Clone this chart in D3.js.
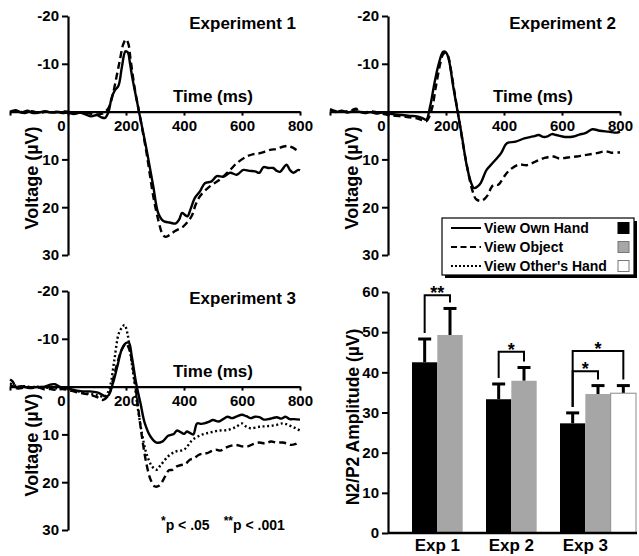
<!DOCTYPE html>
<html>
<head>
<meta charset="utf-8">
<script src="https://cdn.jsdelivr.net/npm/d3@7/dist/d3.min.js"></script>
<style>
  html, body { margin: 0; padding: 0; background: #fff; }
  svg { display: block; }
  text { font-family: "Liberation Sans", Arial, Helvetica, sans-serif; font-weight: bold; fill: #000; }
</style>
</head>
<body>
<svg id="chart" width="639" height="556"></svg>
<script>
// ---------------- DATA ----------------
// ERP waveforms: [time (ms), voltage (µV)]
const exp1Own = [[-200,0],[-180,-0.3],[-160,0.2],[-140,-0.2],[-120,0.3],[-100,0.2],[-80,-0.1],[-60,0.2],[-40,0],[-20,0.3],[0,0.2],[20,0.5],[40,0.2],[60,0.6],[80,1.0],[100,0.7],[115,1.2],[128,1.3],[140,0],[150,-2.8],[162,-4.5],[174,-5.4],[186,-9.4],[198,-12.6],[206,-12.4],[214,-10],[222,-7],[237,-2.4],[248,1],[271,8],[294,15.6],[311,21.2],[329,22.9],[350,23.2],[372,23.4],[384,22.5],[393,21.2],[403,21.6],[412,21.9],[422,20.5],[438,18],[455,16.7],[472,15],[495,14.6],[513,13.5],[536,13.6],[559,12.8],[582,13.2],[605,12.2],[625,12.4],[645,12.5],[660,12.8],[674,11.6],[690,11.8],[708,11.8],[720,12.4],[731,12.6],[745,11.6],[754,11.1],[765,12.2],[777,12.8],[794,12.2],[800,12.3]];
const exp1Obj = [[-200,0.2],[-175,-0.2],[-150,0.3],[-125,-0.1],[-100,0.3],[-75,0],[-50,0.2],[-25,0],[0,0],[25,0.3],[50,0.2],[75,0.4],[100,0.6],[120,0.4],[140,-0.8],[156,-4],[168,-7.5],[179,-10.8],[190,-14],[200,-15.1],[208,-14.2],[216,-10.8],[231,-4.5],[248,1],[271,8.7],[294,17.7],[311,22.6],[325,25.5],[336,26.2],[348,25.9],[369,25],[398,24],[426,21.9],[440,19.5],[455,17.7],[490,15.6],[524,14.2],[559,12.2],[582,10.8],[616,9.4],[640,8.9],[662,8.7],[697,8],[720,7.8],[743,7.3],[760,7.2],[777,7.6],[794,8.3],[800,8.4]];
const exp2Own = [[-200,-0.3],[-180,0.1],[-160,-0.2],[-140,0.2],[-120,-0.1],[-100,0],[-80,0.3],[-60,0.1],[-40,0.4],[-20,0.2],[0,0.4],[25,0.6],[50,0.7],[75,0.9],[100,1],[120,1.4],[132,1.7],[145,-1],[160,-5.9],[175,-10],[190,-12.5],[200,-12.4],[210,-10.8],[225,-5.2],[240,0],[255,5.2],[270,10.8],[285,14.6],[297,16],[310,15.6],[320,14.9],[340,12.2],[360,10.8],[375,9.8],[390,8.7],[410,6.6],[440,6.3],[470,5.6],[500,5.2],[520,4.9],[535,5.3],[550,5.2],[565,4.7],[580,4.9],[610,5.3],[640,5.2],[660,4.8],[680,4.5],[705,3.7],[730,4],[760,4.2],[790,4.4],[800,4.2]];
const exp2Obj = [[-200,-0.5],[-175,0],[-150,0],[-125,-0.3],[-110,-0.6],[-100,0],[-75,0.1],[-50,0],[-25,0.4],[0,0.7],[25,0.9],[50,1.0],[75,1.2],[100,1.4],[118,1.8],[132,2.0],[150,-0.3],[165,-5.2],[180,-10],[190,-12],[200,-12.3],[208,-11.5],[215,-9.4],[230,-3.8],[245,1.7],[260,7.3],[275,12.2],[290,16.3],[305,18.4],[325,18.6],[345,17.4],[355,16],[365,15.3],[380,15.3],[390,14.6],[405,13.2],[420,12.2],[450,11.1],[480,11.2],[510,10.4],[540,9.7],[570,9.4],[590,9.8],[610,9.7],[630,9.5],[650,9.4],[670,9.2],[690,9.0],[720,8.7],[750,8.3],[770,8.6],[800,8.5]];
const exp3Own = [[-200,-0.3],[-180,0.1],[-160,-0.1],[-140,0.2],[-120,0.1],[-100,0.1],[-80,0],[-60,-0.4],[-45,-0.5],[-30,0],[-15,0.3],[0,0.4],[25,0.8],[50,1.0],[75,1.0],[100,1.2],[115,1.6],[130,2.1],[140,1.8],[155,-0.7],[170,-4.2],[185,-7.7],[200,-9.1],[210,-9.2],[220,-6.3],[235,-0.7],[250,3.5],[265,7.7],[285,10.5],[305,11.7],[325,11.5],[345,10.3],[365,9.9],[375,9.2],[385,9.4],[400,9.9],[410,9.4],[420,9.7],[432,10],[445,7.7],[460,7.8],[470,7.7],[485,7.4],[500,7],[520,7.3],[535,6.8],[550,6.3],[565,6.6],[580,6.3],[600,5.9],[615,6.2],[630,6.6],[645,6.3],[660,6.4],[675,6.9],[690,6.8],[705,6.6],[720,6.4],[735,6.7],[750,6.3],[765,6.8],[780,6.8],[800,6.9]];
const exp3Obj = [[-200,-1.5],[-190,-1],[-180,0.3],[-170,0.4],[-150,0.2],[-130,0.3],[-110,0.2],[-100,0.2],[-80,0.6],[-60,0.5],[-40,0.7],[-20,0.5],[0,0.7],[25,1.1],[50,1.4],[75,1.7],[100,2.2],[120,2.8],[140,1.8],[155,-1.4],[170,-4.9],[185,-7.7],[200,-9],[212,-7.7],[225,-3.5],[240,3.5],[255,10.5],[270,16],[285,19.5],[300,20.9],[315,20.7],[335,18.8],[348,17.5],[360,17.4],[375,16.7],[390,16.4],[405,16.2],[420,15.3],[435,15],[450,14.3],[465,14],[480,13.9],[495,13.5],[510,13.2],[525,13.4],[540,12.9],[560,12.4],[580,12.2],[600,12.5],[620,12.5],[640,12.0],[660,11.7],[680,11.9],[700,11.5],[720,11.7],[740,11.7],[755,11.9],[770,12.2],[785,12.0],[800,11.5]];
const exp3Other = [[-200,-0.7],[-185,-0.3],[-170,0],[-150,-0.1],[-125,0.1],[-100,0],[-75,0.2],[-50,0.3],[-25,0.4],[0,0.4],[25,0.8],[50,1.3],[75,1.5],[100,1.8],[125,2.1],[135,1.5],[145,0],[160,-5.6],[175,-11.1],[188,-12.5],[195,-12.9],[205,-11.1],[215,-7],[228,-1.4],[240,4.2],[255,9.8],[270,13.9],[290,16.7],[305,17.4],[320,16.4],[345,14.6],[370,13.6],[400,13.2],[415,12.2],[430,11.1],[460,10.1],[490,9.6],[520,9.2],[550,9.1],[580,8.4],[600,7.7],[615,8.4],[630,8.7],[660,8.4],[680,8.3],[700,8.2],[720,8.0],[740,7.7],[755,7.9],[770,8.3],[785,8.7],[800,9.2]];

const erpTimeTicks = [-200, 0, 200, 400, 600, 800];
const erpVoltTicks = [-20, -10, 10, 20, 30];

// Bar chart
const barCategories = ["Exp 1", "Exp 2", "Exp 3"];
const conditions = ["View Own Hand", "View Object", "View Other's Hand"];
const ownMeans   = [42.5, 33.3, 27.3];
const ownErrors  = [5.8, 3.8, 2.6];
const objMeans   = [49.3, 37.9, 34.6];
const objErrors  = [6.6, 3.3, 2.1];
const otherMeans = [null, null, 34.8];
const otherErrors= [null, null, 1.9];
const barTicks = [0, 10, 20, 30, 40, 50, 60];
// significance brackets: category, from condition index, to condition index, bracket level (µV), label
const sigBrackets = [
  {cat: "Exp 1", from: 0, to: 1, level: 59.2, label: "**"},
  {cat: "Exp 2", from: 0, to: 1, level: 45.1, label: "*"},
  {cat: "Exp 3", from: 0, to: 1, level: 40.3, label: "*"},
  {cat: "Exp 3", from: 0, to: 2, level: 45.3, label: "*"}
];

// ---------------- DRAWING ----------------
const svg = d3.select("#chart");
const FONT_TICK = 15;
const plainFmt = d => String(d);   // hyphen-minus like the original

const styles = [
  {dash: null},
  {dash: "7,4"},
  {dash: "2,2.6"}
];

function erpPanel(opts) {
  const g = svg.append("g");
  const x = d3.scaleLinear().domain([-200, 800]).range([opts.x0, opts.x1]);
  const y = d3.scaleLinear().domain([-20, 30]).range([opts.y0, opts.y1]);

  // y axis at time 0
  const yAxis = d3.axisLeft(y).tickValues(erpVoltTicks).tickFormat(plainFmt)
    .tickSize(6).tickSizeOuter(0).tickPadding(3);
  const ya = g.append("g").attr("transform", `translate(${x(0)},0)`).call(yAxis);
  ya.select(".domain").attr("stroke-width", 2.2);
  ya.selectAll(".tick line").attr("stroke-width", 2);
  ya.selectAll(".tick text").style("font-size", FONT_TICK + "px");

  // x axis at voltage 0
  const xAxis = d3.axisBottom(x).tickValues(erpTimeTicks).tickSize(4).tickSizeOuter(0).tickPadding(5)
    .tickFormat(d => d === -200 ? "" : String(d));
  const xa = g.append("g").attr("transform", `translate(0,${y(0)})`).call(xAxis);
  xa.select(".domain").attr("stroke-width", 2.2);
  xa.selectAll(".tick line").attr("stroke-width", 2);
  xa.selectAll(".tick text").style("font-size", FONT_TICK + "px")
    .attr("dx", d => d === 0 ? -7 : 0);

  // curves
  const line = d3.line().x(d => x(d[0])).y(d => y(d[1])).curve(d3.curveCatmullRom.alpha(0.5));
  opts.series.forEach((s) => {
    g.append("path").datum(s.data)
      .attr("d", line)
      .attr("fill", "none")
      .attr("stroke", "#000")
      .attr("stroke-width", 2.4)
      .attr("stroke-linejoin", "round")
      .attr("stroke-dasharray", styles[s.style].dash);
  });

  // labels
  g.append("text").attr("x", x(500)).attr("y", y(0) - 10)
    .attr("text-anchor", "middle").style("font-size", "17px").text("Time (ms)");
  g.append("text").attr("x", opts.x1 - 4).attr("y", opts.y0 + 13)
    .attr("text-anchor", "end").style("font-size", "17px").text(opts.title);
  g.append("text")
    .attr("transform", `translate(${opts.x0 + 28},${opts.labelY}) rotate(-90)`)
    .attr("text-anchor", "middle").style("font-size", "18px").text("Voltage (µV)");
}

erpPanel({x0: 10, x1: 300, y0: 16, y1: 255, labelY: 178, title: "Experiment 1",
  series: [{data: exp1Obj, style: 1}, {data: exp1Own, style: 0}]});
erpPanel({x0: 330, x1: 620, y0: 16, y1: 255, labelY: 178, title: "Experiment 2",
  series: [{data: exp2Obj, style: 1}, {data: exp2Own, style: 0}]});
erpPanel({x0: 10, x1: 300, y0: 291, y1: 530, labelY: 445, title: "Experiment 3",
  series: [{data: exp3Obj, style: 1}, {data: exp3Other, style: 2}, {data: exp3Own, style: 0}]});

// p-value note
const note = svg.append("text").attr("x", 161).attr("y", 530).style("font-size", "14px");
note.append("tspan").attr("dy", -5).style("font-size", "12px").text("*");
note.append("tspan").attr("dy", 5).text("p < .05");
note.append("tspan").attr("dx", 14).attr("dy", -5).style("font-size", "12px").text("**");
note.append("tspan").attr("dy", 5).text("p < .001");

// ---------------- BAR CHART ----------------
const bx = d3.scaleBand().domain(barCategories).range([412, 634]).paddingInner(0).paddingOuter(0);
const bsub = d3.scaleBand().domain([0, 1, 2]).range([0, 76]);
const by = d3.scaleLinear().domain([0, 60]).range([533, 292]);
const barColors = ["#000000", "#a6a6a6", "#ffffff"];
const meansBy = [ownMeans, objMeans, otherMeans];
const errsBy = [ownErrors, objErrors, otherErrors];

const bg = svg.append("g");
const barData = [];
barCategories.forEach((c, ci) => {
  [0, 1, 2].forEach(k => {
    if (meansBy[k][ci] != null) barData.push({cat: c, k, v: meansBy[k][ci], e: errsBy[k][ci]});
  });
});

// error bars
barData.forEach(d => {
  const cx = bx(d.cat) + bsub(d.k) + bsub.bandwidth() / 2;
  bg.append("line").attr("x1", cx).attr("x2", cx).attr("y1", by(d.v)).attr("y2", by(d.v + d.e))
    .attr("stroke", "#000").attr("stroke-width", 3);
  bg.append("line").attr("x1", cx - 6.5).attr("x2", cx + 6.5).attr("y1", by(d.v + d.e)).attr("y2", by(d.v + d.e))
    .attr("stroke", "#000").attr("stroke-width", 3);
});
bg.selectAll("rect.bar").data(barData).join("rect").attr("class", "bar")
  .attr("x", d => bx(d.cat) + bsub(d.k))
  .attr("width", bsub.bandwidth())
  .attr("y", d => by(d.v))
  .attr("height", d => by(0) - by(d.v))
  .attr("fill", d => barColors[d.k])
  .attr("stroke", d => d.k === 2 ? "#8a8a8a" : "none")
  .attr("stroke-width", 1);

// axes
const byAxis = d3.axisLeft(by).tickValues(barTicks).tickFormat(plainFmt).tickSize(6).tickSizeOuter(0).tickPadding(3);
const bya = bg.append("g").attr("transform", "translate(388,0)").call(byAxis);
bya.select(".domain").attr("stroke-width", 2.2);
bya.selectAll(".tick line").attr("stroke-width", 2);
bya.selectAll(".tick text").style("font-size", FONT_TICK + "px");
bg.append("line").attr("x1", 388).attr("x2", 637).attr("y1", by(0)).attr("y2", by(0))
  .attr("stroke", "#000").attr("stroke-width", 2.4);

barCategories.forEach(c => {
  bg.append("text").attr("x", bx(c) + bsub.bandwidth()).attr("y", 551)
    .attr("text-anchor", "middle").style("font-size", "17px").text(c);
});
bg.append("text").attr("transform", `translate(359,417) rotate(-90)`)
  .attr("text-anchor", "middle").style("font-size", "17.5px").text("N2/P2 Amplitude (µV)");

// significance brackets
sigBrackets.forEach(s => {
  const ci = barCategories.indexOf(s.cat);
  const xa = bx(s.cat) + bsub(s.from) + bsub.bandwidth() / 2;
  const xb = bx(s.cat) + bsub(s.to) + bsub.bandwidth() / 2;
  const ya = meansBy[s.from][ci] + errsBy[s.from][ci] + 1.5;
  const yb = meansBy[s.to][ci] + errsBy[s.to][ci] + 1.5;
  bg.append("path")
    .attr("d", `M${xa},${by(ya)}V${by(s.level)}H${xb}V${by(yb)}`)
    .attr("fill", "none").attr("stroke", "#000").attr("stroke-width", 2);
  bg.append("text").attr("x", (xa + xb) / 2).attr("y", by(s.level) + 4)
    .attr("text-anchor", "middle").style("font-size", "18px").text(s.label);
});

// ---------------- LEGEND ----------------
const lg = svg.append("g");
lg.append("rect").attr("x", 445).attr("y", 221).attr("width", 192).attr("height", 57).attr("fill", "#000");
lg.append("rect").attr("x", 442).attr("y", 218).attr("width", 192).attr("height", 57)
  .attr("fill", "#fff").attr("stroke", "#000").attr("stroke-width", 1.2);
conditions.forEach((c, i) => {
  const yy = 228 + i * 19;
  lg.append("line").attr("x1", 451).attr("x2", 481).attr("y1", yy).attr("y2", yy)
    .attr("stroke", "#000").attr("stroke-width", 2).attr("stroke-dasharray", i === 1 ? "6,3.5" : (i === 2 ? "2,2" : null));
  lg.append("text").attr("x", 484).attr("y", yy + 5).style("font-size", "14px").text(c);
  lg.append("rect").attr("x", 618).attr("y", yy - 5.5).attr("width", 11).attr("height", 11)
    .attr("fill", barColors[i]).attr("stroke", i === 0 ? "#000" : "#777").attr("stroke-width", 1);
});
</script>
</body>
</html>
